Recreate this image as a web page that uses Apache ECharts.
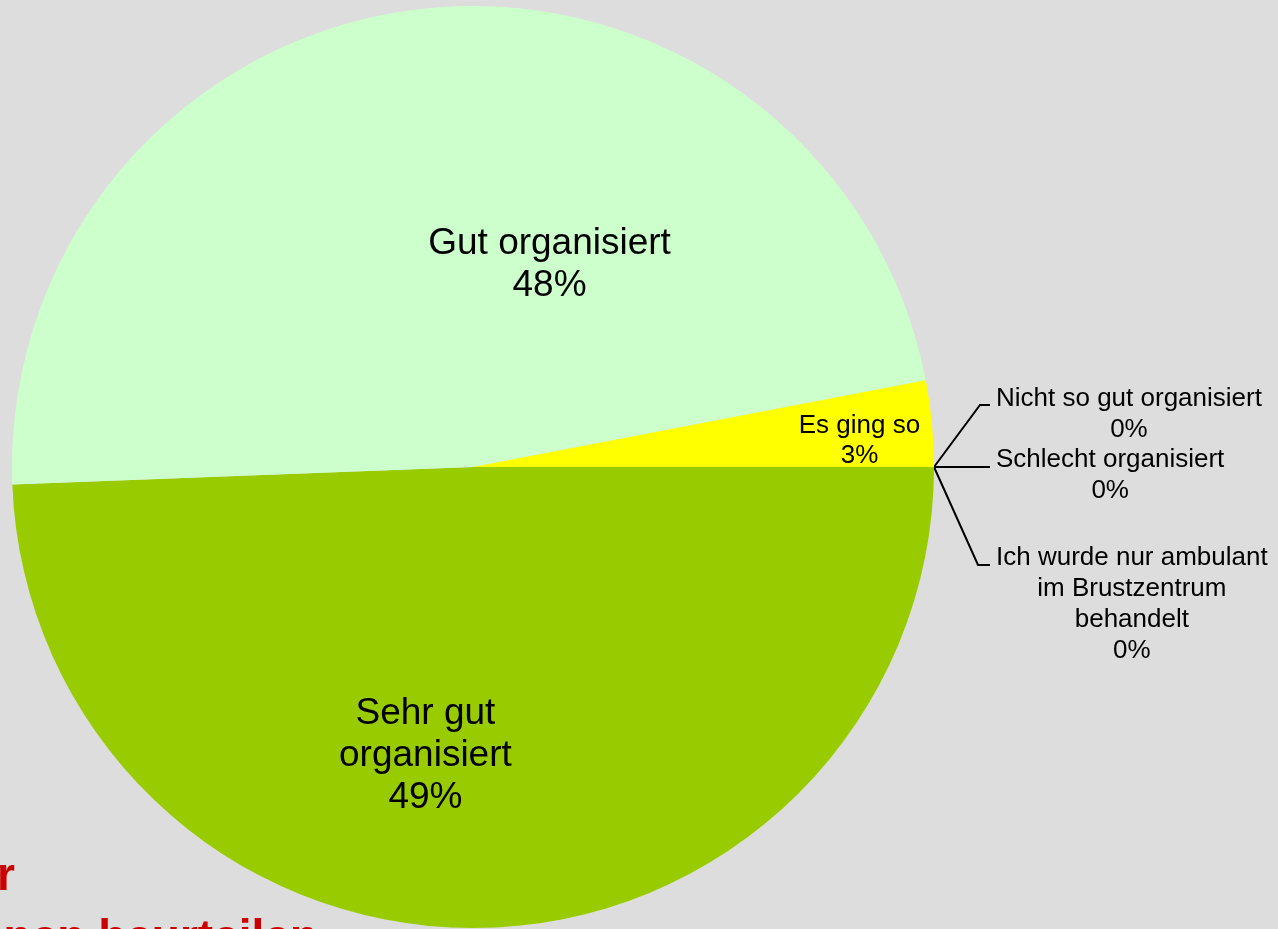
<!DOCTYPE html>
<html>
<head>
<meta charset="utf-8">
<script src="https://cdn.jsdelivr.net/npm/echarts@6/dist/echarts.min.js"></script>
<style>
  html, body { margin: 0; padding: 0; background: #dddddd; }
  #chart { width: 1278px; height: 929px; }
</style>
</head>
<body>
<div id="chart"></div>
<script>
// Antworten (Reihenfolge im Uhrzeigersinn ab 3 Uhr)
var categories = [
  'Sehr gut\norganisiert',
  'Gut organisiert',
  'Es ging so',
  'Nicht so gut organisiert',
  'Schlecht organisiert',
  'Ich wurde nur ambulant\nim Brustzentrum\nbehandelt'
];
// Anzahl Nennungen
var counts = [82, 79, 5, 0, 0, 0];
var colors = ['#99cc00', '#ccffcc', '#ffff00', '#ff9900', '#ff6600', '#cc99ff'];

var titleLines = ['Wie würden Sie die Organisation der', 'Abläufe auf den Stationen beurteilen'];

// Verschiebung der Beschriftungen (Stil, keine Daten)
var insideShift = [[-52, 55], [103, 30], [154, -4]];
var outsideShift = {
  3: { text: -53, bend: [46, -62] },
  4: { text: 8, bend: [28, 0] },
  5: { text: 137, bend: [44, 98] }
};

var chart = echarts.init(document.getElementById('chart'));

var data = counts.map(function (v, i) {
  var zero = v === 0;
  return {
    name: categories[i],
    value: v,
    itemStyle: { color: colors[i] },
    label: zero
      ? { position: 'outside', fontSize: 26, lineHeight: 31, align: 'center' }
      : { position: 'inside', fontSize: i === 2 ? 26 : 37, lineHeight: i === 2 ? 30 : 42 },
    labelLine: { show: zero }
  };
});

chart.setOption({
  backgroundColor: '#dddddd',
  animation: false,
  title: [
    {
      text: titleLines[0], right: 1263, top: 854, padding: 0,
      textStyle: { color: '#cc0000', fontSize: 46, fontWeight: 'bold', fontFamily: 'Liberation Sans, Arial' }
    },
    {
      text: titleLines[1], right: 960, top: 916, padding: 0,
      textStyle: { color: '#cc0000', fontSize: 46, fontWeight: 'bold', fontFamily: 'Liberation Sans, Arial' }
    }
  ],
  series: [{
    type: 'pie',
    center: [473, 467],
    radius: 461,
    startAngle: 0,
    clockwise: true,
    percentPrecision: 0,
    avoidLabelOverlap: false,
    silent: true,
    itemStyle: { borderWidth: 0 },
    label: {
      color: '#000',
      fontFamily: 'Liberation Sans, Arial',
      formatter: '{b}\n{d}%'
    },
    labelLine: {
      length: 30, length2: 20,
      lineStyle: { color: '#000', width: 2 }
    },
    labelLayout: function (p) {
      var i = p.dataIndex;
      if (insideShift[i]) {
        return { dx: insideShift[i][0], dy: insideShift[i][1] };
      }
      var s = outsideShift[i];
      if (!s || !p.labelLinePoints) return {};
      var ax = p.labelLinePoints[0][0], ay = p.labelLinePoints[0][1];
      return {
        x: ax + 62 + p.labelRect.width / 2,
        y: ay + s.text,
        align: 'center',
        verticalAlign: 'middle',
        labelLinePoints: [[ax, ay], [ax + s.bend[0], ay + s.bend[1]], [ax + 56, ay + s.bend[1]]]
      };
    },
    data: data
  }]
});
</script>
</body>
</html>
